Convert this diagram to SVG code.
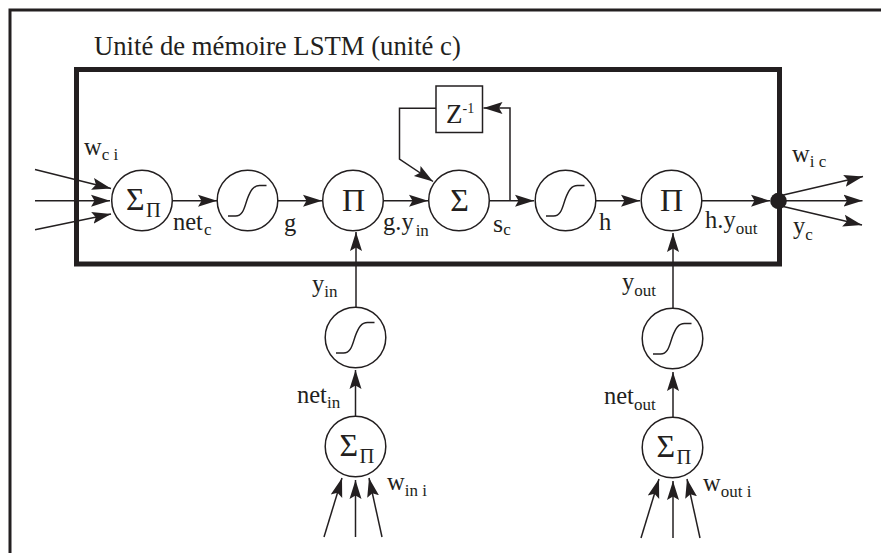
<svg xmlns="http://www.w3.org/2000/svg" width="881" height="553" viewBox="0 0 881 553">
<style>
text{font-family:"Liberation Serif","Times New Roman",serif;fill:#231f20;font-size:24.500px}
tspan.s{font-size:17px}
.n{fill:#fff;stroke:#231f20;stroke-width:1.5}
.c{fill:none;stroke:#231f20;stroke-width:1.5}
.a{fill:none;stroke:#231f20;stroke-width:1.5;marker-end:url(#ah)}
.sym{font-size:32px;text-anchor:middle}
.sg{font-size:32px}
.sp{font-size:20.500px}
</style>
<defs>
<marker id="ah" markerUnits="userSpaceOnUse" markerWidth="20" markerHeight="14" refX="19" refY="6" orient="auto" viewBox="0 0 20 12"><path d="M0 0L19 6L0 12L3.500 6Z" fill="#231f20"/></marker>
<path id="curve" d="M-19.500 15.500H-12C-4 15.500 -3 6 0 -2C3 -10 6 -15 12 -15H19" fill="none" stroke="#231f20" stroke-width="1.500"/>
</defs>
<rect width="881" height="553" fill="#fff"/>
<path id="outer" d="M10 553V10H881" fill="none" stroke="#231f20" stroke-width="3"/>
<rect id="unit" x="76.500" y="69.500" width="703" height="194.500" fill="none" stroke="#231f20" stroke-width="5"/>
<text id="title" x="94" y="55" style="font-size:26.700px">Unité de mémoire LSTM (unité c)</text>
<g id="connectors">
<path class="a" d="M35 169.500L111 188.500"/><path class="a" d="M35 200.700H110"/><path class="a" d="M35 229.700L111 214"/>
<path class="a" d="M172 200.700H217"/><path class="a" d="M278 200.700H322"/><path class="a" d="M383 200.700H428"/><path class="a" d="M489 200.700H534"/>
<path class="a" d="M510 200.700V108H483.500"/>
<path class="a" d="M436 108.300H399.500V159L433 181.500"/>
<path class="a" d="M596 200.700H640"/><path class="a" d="M702 200.700H770"/>
<path class="a" d="M779 196L863 176.500"/><path class="a" d="M779 200.700H862.500"/><path class="a" d="M779 205.500L862 225"/>
<path class="a" d="M356 307V232"/><path class="a" d="M355.500 416V370"/>
<path class="a" d="M324 537L342 478"/><path class="a" d="M355.500 537V480"/><path class="a" d="M382 537L369 478"/>
<path class="a" d="M673 308V233"/><path class="a" d="M673 417V372"/>
<path class="a" d="M641 538L659 479"/><path class="a" d="M673 538V481"/><path class="a" d="M700 538L687 479"/>
</g>
<g id="sigmapi-c"><circle class="n" cx="142" cy="200.500" r="30.300"/><text class="sg" x="126" y="210">Σ</text><text class="sp" x="146" y="217.300">Π</text></g>
<g id="sig-g"><circle class="n" cx="247.500" cy="200.500" r="30.300"/><use href="#curve" x="247.500" y="200.500"/></g>
<g id="pi-in"><circle class="n" cx="353" cy="200.500" r="30.300"/><text class="sym" x="353.500" y="211">Π</text></g>
<g id="sum"><circle class="n" cx="459" cy="200.500" r="30.300"/><text class="sym" x="459.500" y="211">Σ</text></g>
<g id="sig-h"><circle class="n" cx="565.500" cy="200.500" r="30.300"/><use href="#curve" x="565.500" y="200.500"/></g>
<g id="pi-out"><circle class="n" cx="671.500" cy="200.500" r="30.300"/><text class="sym" x="671.500" y="211">Π</text></g>
<g id="sig-in"><circle class="n" cx="355.500" cy="337.500" r="30.300"/><use href="#curve" x="355.500" y="337.500"/></g>
<g id="sigmapi-in"><circle class="n" cx="355.500" cy="446.500" r="30.300"/><text class="sg" x="339.500" y="456">Σ</text><text class="sp" x="359.500" y="463.300">Π</text></g>
<g id="sig-out"><circle class="n" cx="672.500" cy="338.500" r="30.300"/><use href="#curve" x="672.500" y="338.500"/></g>
<g id="sigmapi-out"><circle class="n" cx="672.500" cy="447.500" r="30.300"/><text class="sg" x="656.500" y="457">Σ</text><text class="sp" x="676.500" y="464.300">Π</text></g>
<g id="delay"><rect class="n" x="436" y="86" width="46.500" height="46.500"/><text x="446" y="123.300" style="font-size:27px">Z<tspan style="font-size:14px" dy="-10">-1</tspan></text></g>
<g id="output"><circle cx="778.500" cy="201" r="8.300" fill="#231f20"/></g>
<g id="labels">
<text x="84" y="155">w<tspan class="s" dy="5">c i</tspan></text>
<text x="173" y="230">net<tspan class="s" dy="5" dx="1">c</tspan></text>
<text x="284" y="231">g</text>
<text x="383" y="230">g.y<tspan class="s" dy="6" dx="2">in</tspan></text>
<text x="493" y="232" style="font-size:26px">s<tspan class="s" dy="3">c</tspan></text>
<text x="599" y="230">h</text>
<text x="705" y="228">h.y<tspan class="s" dy="6">out</tspan></text>
<text x="792" y="162">w<tspan class="s" dy="5">i c</tspan></text>
<text x="793" y="234">y<tspan class="s" dy="6">c</tspan></text>
<text x="312" y="292">y<tspan class="s" dy="5">in</tspan></text>
<text x="622" y="290">y<tspan class="s" dy="6">out</tspan></text>
<text x="297" y="403">net<tspan class="s" dy="5">in</tspan></text>
<text x="604" y="404">net<tspan class="s" dy="6">out</tspan></text>
<text x="387" y="490">w<tspan class="s" dy="6">in i</tspan></text>
<text x="703" y="491">w<tspan class="s" dy="6">out i</tspan></text>
</g>
</svg>
